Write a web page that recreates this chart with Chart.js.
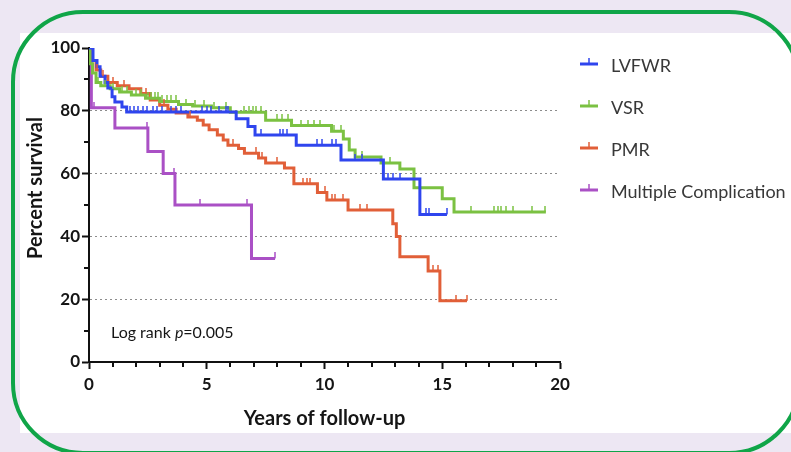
<!DOCTYPE html>
<html>
<head>
<meta charset="utf-8">
<script src="https://cdn.jsdelivr.net/npm/chart.js@4"></script>
<style>
  html, body { margin: 0; padding: 0; }
  body { width: 791px; height: 452px; overflow: hidden; background: #ede7f3; position: relative; }
  #panel { position: absolute; left: 20px; top: 33px; width: 771px; height: 400px; background: #fff; }
  #frame { position: absolute; left: 11px; top: 10px; width: 790px; height: 445px; box-sizing: border-box;
           border: 4px solid #10a548; border-radius: 72px; pointer-events: none; }
</style>
</head>
<body>
<div id="panel"><canvas id="km" width="771" height="400"></canvas></div>
<div id="frame"></div>
<script>
const seriesNames = ['LVFWR', 'VSR', 'PMR', 'Multiple Complication'];
const seriesColors = ['#2f45ee', '#7bc142', '#e15f38', '#aa50c5'];
const xTitle = 'Years of follow-up';
const yTitle = 'Percent survival';
const xTicks = [0, 5, 10, 15, 20];
const yTicks = [0, 20, 40, 60, 80, 100];
const yGrid = [20, 40, 60, 80];

// step points (time, % surviving)
const lvfwrTimes = [0, 0.17, 0.34, 0.47, 0.68, 0.8, 0.98, 1.1, 1.4, 1.6, 6.25, 6.75, 7.05, 8.8, 10.7, 12.5, 14.05, 15.2];
const lvfwrSurv  = [100, 96, 94, 91, 89, 87.3, 84.5, 82.8, 81.2, 79.6, 77.5, 75, 72.3, 69, 64.3, 58.3, 47, 47];
const lvfwrCensor = [1.75, 1.9, 2.1, 2.3, 2.45, 2.7, 2.9, 3.1, 3.5, 3.7, 3.9, 4.8, 5.0, 5.2, 5.5, 5.8, 5.9,
  7.3, 8.1, 8.25, 8.4, 9.7, 9.9, 10.3, 10.5, 11.3, 11.6, 12.7, 12.9, 13.2, 14.3, 14.45, 15.2];

const vsrTimes = [0, 0.05, 0.15, 0.3, 0.5, 0.9, 1.3, 1.8, 2.4, 3.0, 3.8, 4.4, 5.2, 6.0, 7.5, 8.6, 10.3, 10.8, 11.05, 11.3, 12.4, 13.2, 13.8, 15.0, 15.5, 19.4];
const vsrSurv  = [100, 95, 92, 89, 88, 87, 86, 85, 84, 83, 82, 81.5, 81, 79.5, 77, 75.3, 73.5, 71, 67.5, 65.3, 63.4, 61.5, 55.5, 52, 47.8, 47.8];
const vsrCensor = [0.4, 0.7, 1.0, 1.4, 1.6, 2.0, 2.2, 2.5, 2.65, 2.8, 2.95, 3.1, 3.3, 3.5, 3.7, 4.1, 4.5, 4.9, 5.3, 5.8,
  6.6, 6.8, 6.95, 7.1, 7.3, 8.0, 8.2, 8.45, 9.0, 9.3, 9.55, 9.8, 10.4, 10.7, 11.6, 12.8,
  16.2, 17.2, 17.35, 17.5, 17.7, 18.0, 18.8, 19.35];

const pmrTimes = [0, 0.1, 0.3, 0.5, 0.8, 1.2, 1.7, 2.2, 2.6, 3.0, 3.35, 3.7, 4.2, 4.6, 4.85, 5.1, 5.45, 5.7, 5.9, 6.35, 6.6,
  7.2, 7.5, 8.3, 8.7, 9.7, 10.1, 11.0, 12.9, 13.05, 13.2, 14.4, 14.9, 16.05];
const pmrSurv  = [100, 96, 93, 91, 89, 88, 87, 85.5, 83.4, 81.8, 80.5, 79.3, 78, 77, 75.5, 74, 72.3, 70.7, 69, 68, 66.5,
  65, 63.4, 61.8, 56.8, 54, 51.6, 48.4, 44, 40, 33.5, 29, 19.5, 19.5];
const pmrCensor = [0.05, 0.35, 0.6, 1.0, 1.5, 2.4, 3.2, 4.3, 6.1, 7.1, 7.35, 8.0, 8.3, 9.1, 9.25, 9.4, 10.0,
  10.3, 10.45, 10.8, 11.5, 11.8, 14.6, 14.8, 15.6, 16.05];

const multiTimes = [0, 0.1, 1.1, 2.5, 3.15, 3.65, 6.9, 7.9];
const multiSurv  = [100, 81, 74.5, 67, 60, 50, 33, 33];
const multiCensor = [0.2, 2.45, 3.6, 4.7, 6.7, 7.9];

function survivalAt(times, surv, t) {
    let v = surv[0];
    for (let i = 0; i < times.length; i++) {
        if (times[i] <= t) v = surv[i];
    }
    return v;
}

function curve(times, surv) {
    return times.map((t, i) => ({ x: t, y: surv[i] }));
}

function censorPoints(times, surv, cens) {
    return cens.map(t => ({ x: t, y: survivalAt(times, surv, t) }));
}

// small upward tick used for censored cases
function censorMark(color) {
    const c = document.createElement('canvas');
    c.width = 2;
    c.height = 12;
    const g = c.getContext('2d');
    g.globalAlpha = 0.75;
    g.fillStyle = color;
    g.fillRect(0, 0, 2, 6);
    return c;
}

const groups = [
    [lvfwrTimes, lvfwrSurv, lvfwrCensor],
    [vsrTimes, vsrSurv, vsrCensor],
    [pmrTimes, pmrSurv, pmrCensor],
    [multiTimes, multiSurv, multiCensor]
];

const censorSets = groups.map((g, i) => ({
    label: seriesNames[i] + ' censored',
    data: censorPoints(g[0], g[1], g[2]),
    showLine: false,
    pointStyle: censorMark(seriesColors[i]),
    pointRadius: 3,
    pointHoverRadius: 3
}));

const lineSets = groups.map((g, i) => ({
    label: seriesNames[i],
    data: curve(g[0], g[1]),
    borderColor: seriesColors[i],
    borderWidth: 3,
    stepped: 'before',
    pointRadius: 0,
    fill: false,
    borderJoinStyle: 'miter',
    borderCapStyle: 'butt'
}));

// minor tick marks, shorter than the labelled ones
const minorTicks = {
    id: 'minorTicks',
    afterDraw(chart) {
        const { ctx, chartArea: a, scales: { x, y } } = chart;
        ctx.save();
        ctx.strokeStyle = '#111';
        ctx.lineWidth = 2;
        ctx.beginPath();
        x.ticks.forEach(t => {
            if (xTicks.includes(t.value)) return;
            const px = Math.round(x.getPixelForValue(t.value));
            ctx.moveTo(px, a.bottom);
            ctx.lineTo(px, a.bottom + 5);
        });
        y.ticks.forEach(t => {
            if (yTicks.includes(t.value)) return;
            const py = Math.round(y.getPixelForValue(t.value));
            ctx.moveTo(a.left, py);
            ctx.lineTo(a.left - 5, py);
        });
        ctx.stroke();
        ctx.restore();
    }
};

const annotations = {
    id: 'annotations',
    afterDraw(chart) {
        const { ctx, chartArea: a } = chart;
        ctx.save();
        ctx.fillStyle = '#151515';
        ctx.font = 'bold 20px Lato';
        ctx.textAlign = 'center';
        ctx.textBaseline = 'middle';
        ctx.fillText(xTitle, (a.left + a.right) / 2, a.bottom + 57);
        ctx.save();
        ctx.translate(a.left - 53, (a.top + a.bottom) / 2 - 17);
        ctx.rotate(-Math.PI / 2);
        ctx.fillText(yTitle, 0, 0);
        ctx.restore();

        // log rank note
        ctx.textAlign = 'left';
        let lx = a.left + 22;
        const ly = a.bottom - 29;
        const parts = [['Log rank ', '16px Lato'], ['p', 'italic 16px Lato'], ['=0.005', '16px Lato']];
        parts.forEach(([txt, f]) => {
            ctx.font = f;
            ctx.fillText(txt, lx, ly);
            lx += ctx.measureText(txt).width;
        });

        // legend
        ctx.font = '18px Lato';
        ctx.fillStyle = '#383838';
        seriesNames.forEach((name, i) => {
            const yy = a.top + 16 + i * 42;
            const x0 = a.right + 20;
            ctx.strokeStyle = seriesColors[i];
            ctx.lineWidth = 3;
            ctx.beginPath();
            ctx.moveTo(x0, yy);
            ctx.lineTo(x0 + 18, yy);
            ctx.stroke();
            ctx.lineWidth = 1.5;
            ctx.beginPath();
            ctx.moveTo(x0 + 9, yy);
            ctx.lineTo(x0 + 9, yy - 6);
            ctx.stroke();
            ctx.fillText(name, x0 + 31, yy + 2);
        });
        ctx.restore();
    }
};

const tickFont = { family: 'Lato', size: 17, weight: 'bold' };

new Chart(document.getElementById('km').getContext('2d'), {
    type: 'line',
    data: { datasets: censorSets.concat(lineSets) },
    options: {
        responsive: false,
        animation: false,
        layout: { padding: { top: 15, right: 231, left: 0, bottom: 0 } },
        plugins: { legend: { display: false }, tooltip: { enabled: false } },
        scales: {
            x: {
                type: 'linear', min: 0, max: 20,
                afterFit: s => { s.height = 71; },
                ticks: {
                    stepSize: 1, autoSkip: false, maxRotation: 0, padding: 5,
                    color: '#151515', font: tickFont,
                    callback: v => xTicks.includes(v) ? v : ''
                },
                grid: {
                    drawOnChartArea: false, tickLength: 7, tickWidth: 2,
                    tickColor: c => xTicks.includes(c.tick.value) ? '#111' : 'transparent'
                },
                border: { color: '#111', width: 2 }
            },
            y: {
                min: 0, max: 100,
                afterFit: s => { s.width = 69; },
                ticks: {
                    stepSize: 10, autoSkip: false, padding: 2,
                    color: '#151515', font: tickFont,
                    callback: v => yTicks.includes(v) ? v : ''
                },
                grid: {
                    color: c => yGrid.includes(c.tick.value) ? '#8c8c8c' : 'transparent',
                    lineWidth: 1, tickLength: 7, tickWidth: 2,
                    tickColor: c => yTicks.includes(c.tick.value) ? '#111' : 'transparent',
                    borderDash: [2, 3], tickBorderDash: []
                },
                border: { color: '#111', width: 2, dash: [2, 3] }
            }
        }
    },
    plugins: [minorTicks, annotations]
});
</script>
</body>
</html>
